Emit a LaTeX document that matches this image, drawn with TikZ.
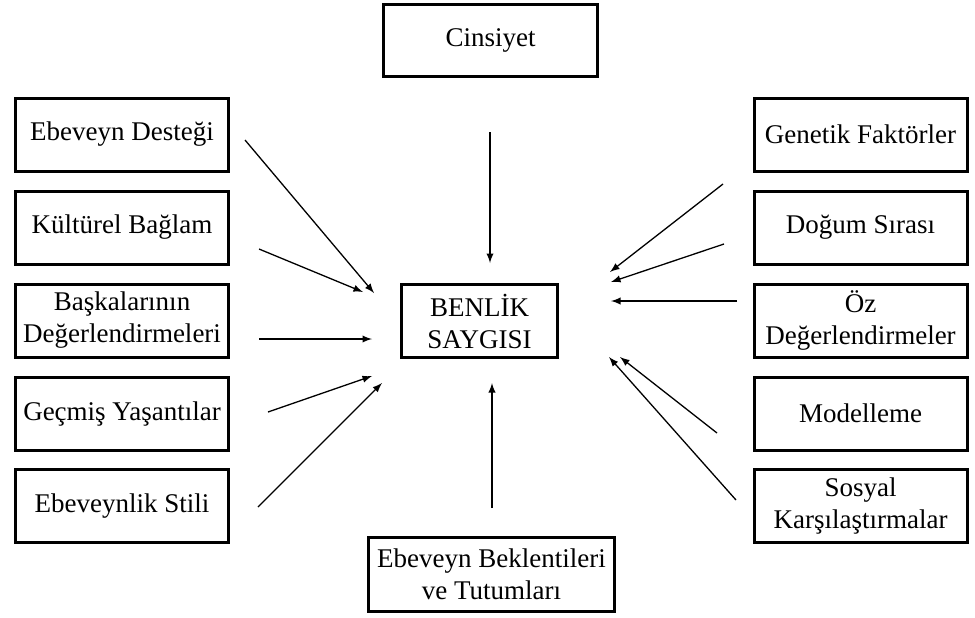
\documentclass[tikz,border=0pt]{standalone}
\usepackage{fontspec}
\setmainfont{Liberation Serif}
\usetikzlibrary{arrows}

\begin{document}
\begin{tikzpicture}[%
        x=0.5pt, y=-0.5pt,
        font=\fontsize{13.5}{16}\selectfont,
        kutu/.style={draw, line width=1.5pt, align=center, inner sep=0pt, outer sep=0pt,
                     minimum width=106.5pt, minimum height=36.5pt},
        ok/.style={->, line width=0.65pt},
        >=latex % Pfeilspitzen
        ]
            \useasboundingbox (0,0) rectangle (975,617);

            % Kutular
            \node [kutu] (BS) at (479.5,321) [minimum width=78pt] {BENL\.{I}K\\SAYGISI};
            \node [kutu] (CI) at (490.5,40.5) [minimum width=107pt, minimum height=36pt] {Cinsiyet};
            \node [kutu] (EB) at (491.5,574.5) [minimum width=123pt, minimum height=37pt] {Ebeveyn Beklentileri\\ve Tutumları};

            \node [kutu] (ED) at (122,134.5) {Ebeveyn Desteği};
            \node [kutu] (KB) at (122,227.5) {Kültürel Bağlam};
            \node [kutu] (BD) at (122,320.5) {Başkalarının\\Değerlendirmeleri};
            \node [kutu] (GY) at (122,413.5) {Geçmiş Yaşantılar};
            \node [kutu] (ES) at (122,506)   {Ebeveynlik Stili};

            \node [kutu] (GF) at (860.5,134.5) {Genetik Faktörler};
            \node [kutu] (DS) at (860.5,227.5) {Doğum Sırası};
            \node [kutu] (OD) at (860.5,320.5) {Öz\\Değerlendirmeler};
            \node [kutu] (MO) at (860.5,413.5) {Modelleme};
            \node [kutu] (SK) at (860.5,506)   {Sosyal\\Karşılaştırmalar};

            % Okların uçları
            \coordinate (ED1) at (245,140);  \coordinate (ED2) at (374,293);
            \coordinate (KB1) at (259,249);  \coordinate (KB2) at (363,292);
            \coordinate (BD1) at (259,339);  \coordinate (BD2) at (372,339);
            \coordinate (GY1) at (268,412);  \coordinate (GY2) at (372,376);
            \coordinate (ES1) at (258,507);  \coordinate (ES2) at (382,383);
            \coordinate (GF1) at (723,184);  \coordinate (GF2) at (610,272);
            \coordinate (DS1) at (724,244);  \coordinate (DS2) at (611,282);
            \coordinate (OD1) at (737,301);  \coordinate (OD2) at (611,301);
            \coordinate (MO1) at (717,433);  \coordinate (MO2) at (620,357);
            \coordinate (SK1) at (736,500);  \coordinate (SK2) at (609,357);
            \coordinate (CI1) at (490,132);  \coordinate (CI2) at (490,263);
            \coordinate (EB1) at (492,508);  \coordinate (EB2) at (492,383);

            % Oklar
            \draw [ok]  (ED1) -- (ED2);
            \draw [ok]  (KB1) -- (KB2);
            \draw [ok]  (BD1) -- (BD2);
            \draw [ok]  (GY1) -- (GY2);
            \draw [ok]  (ES1) -- (ES2);
            \draw [ok]  (GF1) -- (GF2);
            \draw [ok]  (DS1) -- (DS2);
            \draw [ok]  (OD1) -- (OD2);
            \draw [ok]  (MO1) -- (MO2);
            \draw [ok]  (SK1) -- (SK2);
            \draw [ok]  (CI1) -- (CI2);
            \draw [ok]  (EB1) -- (EB2);

        \end{tikzpicture}
\end{document}
